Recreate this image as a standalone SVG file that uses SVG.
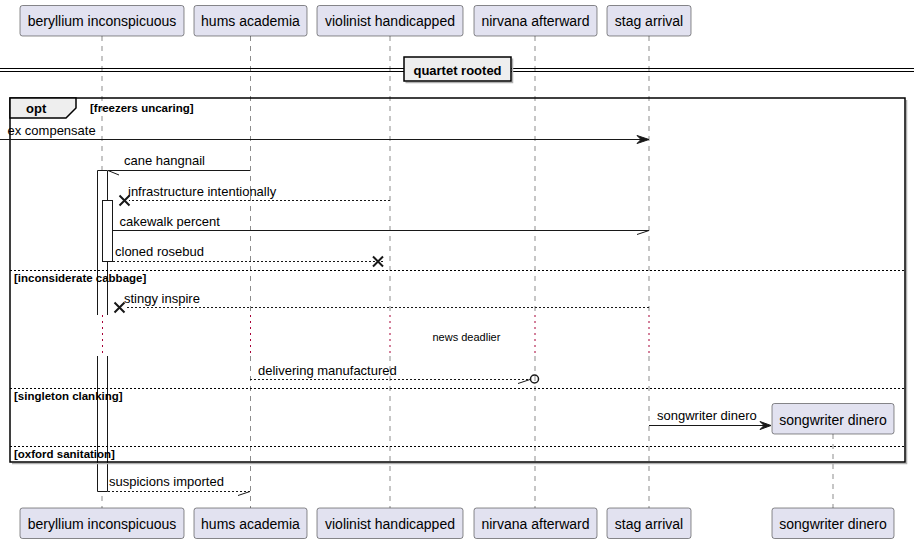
<svg xmlns="http://www.w3.org/2000/svg" width="920" height="544" viewBox="0 0 920 544">
<style>
text{font-family:"Liberation Sans",Arial,sans-serif;fill:#000}
.p rect{fill:#E2E2F0;stroke:#181818;stroke-width:0.5}
.p text{font-size:14px;text-anchor:middle}
.life{stroke:#181818;stroke-width:0.5;stroke-dasharray:5,5;fill:none}
.delay{stroke:#A80036;stroke-width:1;stroke-dasharray:2,4;fill:none}
.msg{stroke:#181818;stroke-width:1;fill:none}
.dash{stroke-dasharray:2,2}
.cross{stroke:#181818;stroke-width:2;fill:none}
.head{fill:#181818;stroke:#181818;stroke-width:1}
.lbl{font-size:13px}
.grd{font-size:11.5px;font-weight:bold}
.sep{stroke:#000;stroke-width:1;stroke-dasharray:2,2;fill:none}
.bar{fill:#fff;stroke:none}
.barl{stroke:#181818;stroke-width:1;fill:none}
.shadow{stroke:#b0b0b0;stroke-width:1.5;fill:none}
</style>
<rect x="0" y="0" width="920" height="544" fill="#fff"/>

<g id="p-beryllium" class="p">
<path class="life" d="M102,36 V315 M102,356 V508"/>
<path class="delay" d="M102,315 V356"/>
<rect x="20" y="5.5" width="164" height="30.5" rx="2.5"/><text x="102" y="26">beryllium inconspicuous</text>
<rect x="20" y="508" width="164" height="30.5" rx="2.5"/><text x="102" y="529">beryllium inconspicuous</text>
</g>
<g id="p-hums" class="p">
<path class="life" d="M250.5,36 V315 M250.5,356 V508"/>
<path class="delay" d="M250.5,315 V356"/>
<rect x="194" y="5.5" width="113" height="30.5" rx="2.5"/><text x="250.5" y="26">hums academia</text>
<rect x="194" y="508" width="113" height="30.5" rx="2.5"/><text x="250.5" y="529">hums academia</text>
</g>
<g id="p-violinist" class="p">
<path class="life" d="M390,36 V315 M390,356 V508"/>
<path class="delay" d="M390,315 V356"/>
<rect x="317" y="5.5" width="146" height="30.5" rx="2.5"/><text x="390" y="26">violinist handicapped</text>
<rect x="317" y="508" width="146" height="30.5" rx="2.5"/><text x="390" y="529">violinist handicapped</text>
</g>
<g id="p-nirvana" class="p">
<path class="life" d="M535,36 V315 M535,356 V508"/>
<path class="delay" d="M535,315 V356"/>
<rect x="474" y="5.5" width="123" height="30.5" rx="2.5"/><text x="535.5" y="26">nirvana afterward</text>
<rect x="474" y="508" width="123" height="30.5" rx="2.5"/><text x="535.5" y="529">nirvana afterward</text>
</g>
<g id="p-stag" class="p">
<path class="life" d="M649,36 V315 M649,356 V508"/>
<path class="delay" d="M649,315 V356"/>
<rect x="607" y="5.5" width="84" height="30.5" rx="2.5"/><text x="649" y="26">stag arrival</text>
<rect x="607" y="508" width="84" height="30.5" rx="2.5"/><text x="649" y="529">stag arrival</text>
</g>
<g id="p-songwriter" class="p">
<path class="life" d="M833,434 V508"/>
<rect x="772" y="403.5" width="122" height="30.5" rx="2.5"/><text x="833" y="424.5">songwriter dinero</text>
<rect x="772" y="508" width="122" height="30.5" rx="2.5"/><text x="833" y="529">songwriter dinero</text>
</g>

<g id="activations">
<rect class="bar" x="97.5" y="170.5" width="10" height="321"/>
<path class="barl" d="M97.5,170.5 H107.5 M97.5,170.5 V315 M107.5,170.5 V315 M97.5,356 V491.5 M107.5,356 V491.5 M97.5,491.5 H107.5"/>
<path class="delay" d="M102.5,315 V356"/>
<rect x="102.5" y="200.5" width="10" height="61" fill="#fff" stroke="#181818" stroke-width="1"/>
</g>

<g id="divider">
<path d="M0,68.5 H914 M0,71.5 H914" stroke="#000" stroke-width="1" fill="none"/>
<path class="shadow" d="M512.5,58.5 V82.5 H405.5"/>
<rect x="404" y="57" width="107" height="24" fill="#EEEEEE" stroke="#000" stroke-width="1.5"/>
<text x="457.5" y="74.5" font-size="13" font-weight="bold" text-anchor="middle">quartet rooted</text>
</g>

<g id="opt-frame">
<path class="shadow" d="M906.5,100 V463.5 H12"/>
<rect x="10" y="98" width="895" height="364" fill="none" stroke="#000" stroke-width="1.5"/>
<polygon points="10,98 76,98 76,108 66,118 10,118" fill="#EEEEEE" stroke="#000" stroke-width="1.5"/>
<text x="26" y="112.5" font-size="13" font-weight="bold">opt</text>
<text class="grd" x="90" y="111.5">[freezers uncaring]</text>
<path class="sep" d="M10,270.5 H905 M10,388.5 H905 M10,446.5 H905"/>
<text class="grd" x="14" y="281.5">[inconsiderate cabbage]</text>
<text class="grd" x="14" y="399.5">[singleton clanking]</text>
<text class="grd" x="14" y="457.5">[oxford sanitation]</text>
</g>

<g id="connectors">
<path class="msg" d="M0,139.5 H645"/>
<polygon class="head" points="637,135.5 649,139.5 637,143.5 641,139.5"/>
<text class="lbl" x="7.5" y="134.5">ex compensate</text>

<path class="msg" d="M250,170.5 H108 M108,170.5 L119,175"/>
<text class="lbl" x="124" y="165">cane hangnail</text>

<path class="msg dash" d="M390,200.5 H129"/>
<path class="cross" d="M119.5,195.5 L129.5,205.5 M119.5,205.5 L129.5,195.5"/>
<text class="lbl" x="128" y="195.5">infrastructure intentionally</text>

<path class="msg" d="M113,230.5 H649 M649,230.5 L637,234.5"/>
<text class="lbl" x="119.5" y="226">cakewalk percent</text>

<path class="msg dash" d="M113,261.5 H383"/>
<path class="cross" d="M373,256.5 L383,266.5 M373,266.5 L383,256.5"/>
<text class="lbl" x="115" y="256">cloned rosebud</text>

<path class="msg dash" d="M649,307.5 H125"/>
<path class="cross" d="M114.5,302.5 L124.5,312.5 M114.5,312.5 L124.5,302.5"/>
<text class="lbl" x="124" y="303">stingy inspire</text>

<text x="432.5" y="340.5" font-size="11">news deadlier</text>

<path class="msg dash" d="M250,379.5 H530.5"/>
<path class="msg" d="M518,383.5 L530,379.5"/>
<circle cx="534.5" cy="379" r="4" fill="none" stroke="#181818" stroke-width="1.5"/>
<text class="lbl" x="258" y="375">delivering manufactured</text>

<path class="msg" d="M649,425.5 H767"/>
<polygon class="head" points="760,421.5 771,425.5 760,429.5 764,425.5"/>
<text class="lbl" x="657" y="420">songwriter dinero</text>

<path class="msg dash" d="M108,491.5 H250"/>
<path class="msg" d="M250,491.5 L238,495.5"/>
<text class="lbl" x="109" y="486">suspicions imported</text>
</g>
</svg>
